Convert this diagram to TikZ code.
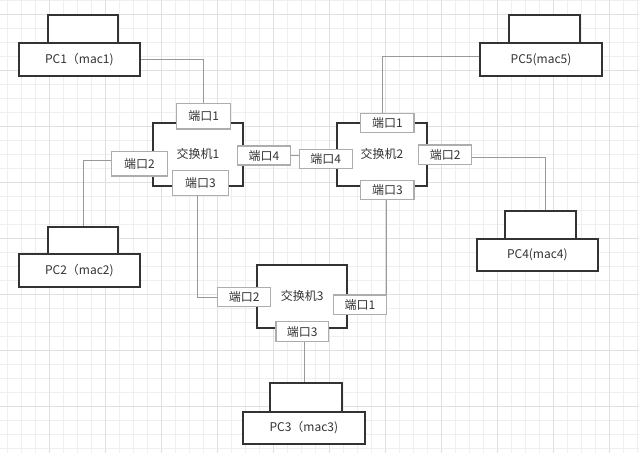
\documentclass[tikz,border=0pt]{standalone}
\usepackage{fontspec}
\setmainfont{Noto Sans CJK SC}
\definecolor{gridminor}{HTML}{EFEFEF}
\definecolor{gridmajor}{HTML}{E0E0E0}
\definecolor{boxline}{HTML}{333333}
\definecolor{portline}{HTML}{ADADAD}
\definecolor{wire}{HTML}{999999}
\definecolor{txt}{HTML}{333333}
\pgfdeclarelayer{gridlayer}
\pgfdeclarelayer{wirelayer}
\pgfsetlayers{gridlayer,wirelayer,main}
\tikzset{
  every node/.style={font=\fontsize{12}{14}\selectfont, text=txt, inner sep=0pt, outer sep=0pt},
  pcbox/.style={draw=boxline, line width=2pt, fill=white, rectangle},
  swbox/.style={draw=boxline, line width=2pt, fill=white, rectangle},
  portbox/.style={draw=portline, line width=1.2pt, fill=white, rectangle},
  wireline/.style={draw=wire, line width=0.9pt},
}
\begin{document}
\begin{tikzpicture}[x=1pt,y=-1pt]
\begin{pgfonlayer}{gridlayer}
\useasboundingbox[fill=white] (0,0) rectangle (639,453);
\foreach \k in {0,...,45} {\draw[gridminor, line width=0.8pt] ({7+14*\k},0) -- ({7+14*\k},453);}
\foreach \k in {0,...,32} {\draw[gridminor, line width=0.8pt] (0,{14*\k}) -- (639,{14*\k});}
\foreach \k in {0,...,10} {\draw[gridmajor, line width=0.8pt] ({49+56*\k},0) -- ({49+56*\k},453);}
\foreach \k in {0,...,7} {\draw[gridmajor, line width=0.8pt] (0,{14+56*\k}) -- (639,{14+56*\k});}
\end{pgfonlayer}

% PCs
\node[pcbox, minimum width=70.6, minimum height=28.6] (pc1t) at (83,29) {};
\node[pcbox, minimum width=121.3, minimum height=32.7] (pc1b) at (79.35,59.65) {PC1（mac1)};
\node[pcbox, minimum width=70.6, minimum height=27.6] (pc2t) at (83,240.5) {};
\node[pcbox, minimum width=121.3, minimum height=33] (pc2b) at (79.35,270.8) {PC2（mac2)};
\node[pcbox, minimum width=71.7, minimum height=28.4] (pc3t) at (305.85,397.5) {};
\node[pcbox, minimum width=122.3, minimum height=32.3] (pc3b) at (303.85,427.85) {PC3（mac3)};
\node[pcbox, minimum width=71.6, minimum height=28.3] (pc4t) at (540.5,224.85) {};
\node[pcbox, minimum width=121.3, minimum height=32] (pc4b) at (537.35,255) {PC4(mac4)};
\node[pcbox, minimum width=71.6, minimum height=28.6] (pc5t) at (544.5,29) {};
\node[pcbox, minimum width=122, minimum height=32.7] (pc5b) at (541,59.65) {PC5(mac5)};

% switches
\node[swbox, minimum width=90.3, minimum height=63] (sw1) at (197.85,154.2) {交换机1};
\node[swbox, minimum width=90.7, minimum height=63.3] (sw2) at (381.85,154.15) {交换机2};
\node[swbox, minimum width=90.2, minimum height=63] (sw3) at (302.1,296) {交换机3};

% ports
\node[portbox, minimum width=54, minimum height=25.7] (s1p1) at (203.7,116.15) {端口1};
\node[portbox, minimum width=55.6, minimum height=24.7] (s1p2) at (139.5,163.65) {端口2};
\node[portbox, minimum width=55.6, minimum height=25] (s1p3) at (200.5,183.2) {端口3};
\node[portbox, minimum width=52.6, minimum height=19] (s1p4) at (264,155.5) {端口4};
\node[portbox, minimum width=53.3, minimum height=19] (s2p1) at (387.35,122.8) {端口1};
\node[portbox, minimum width=53, minimum height=19.3] (s2p2) at (445.2,154.65) {端口2};
\node[portbox, minimum width=53.3, minimum height=19] (s2p3) at (387.35,189.8) {端口3};
\node[portbox, minimum width=53, minimum height=19] (s2p4) at (325.8,158.8) {端口4};
\node[portbox, minimum width=53.4, minimum height=19.3] (s3p1) at (360,304.65) {端口1};
\node[portbox, minimum width=52.8, minimum height=19] (s3p2) at (244.1,297) {端口2};
\node[portbox, minimum width=52.3, minimum height=19.6] (s3p3) at (302.15,331.5) {端口3};

% connectors (behind boxes)
\begin{pgfonlayer}{wirelayer}
\draw[wireline] (pc1b.east) -| (s1p1.north);
\draw[wireline] ([yshift=3.4pt]pc5b.west) -| ([xshift=-4.6pt]s2p1.north);
\draw[wireline] ([yshift=3pt]s1p2.west) -| (pc2t.north);
\draw[wireline] ([xshift=-3pt]s1p3.south) |- (s3p2.west);
\draw[wireline] (s1p4.east) -- (s1p4.east -| s2p4.west);
\draw[wireline] ([yshift=-3pt]s2p2.east) -| ([xshift=5pt]pc4t.north);
\draw[wireline] ([xshift=-0.7pt]s3p1.north east) -- ([xshift=-0.7pt]s3p1.north east |- s2p3.south);
\draw[wireline] ([xshift=-1.5pt]pc3t.north) -- ([xshift=-1.5pt]pc3t.north |- s3p3.south);
\end{pgfonlayer}
\end{tikzpicture}
\end{document}
